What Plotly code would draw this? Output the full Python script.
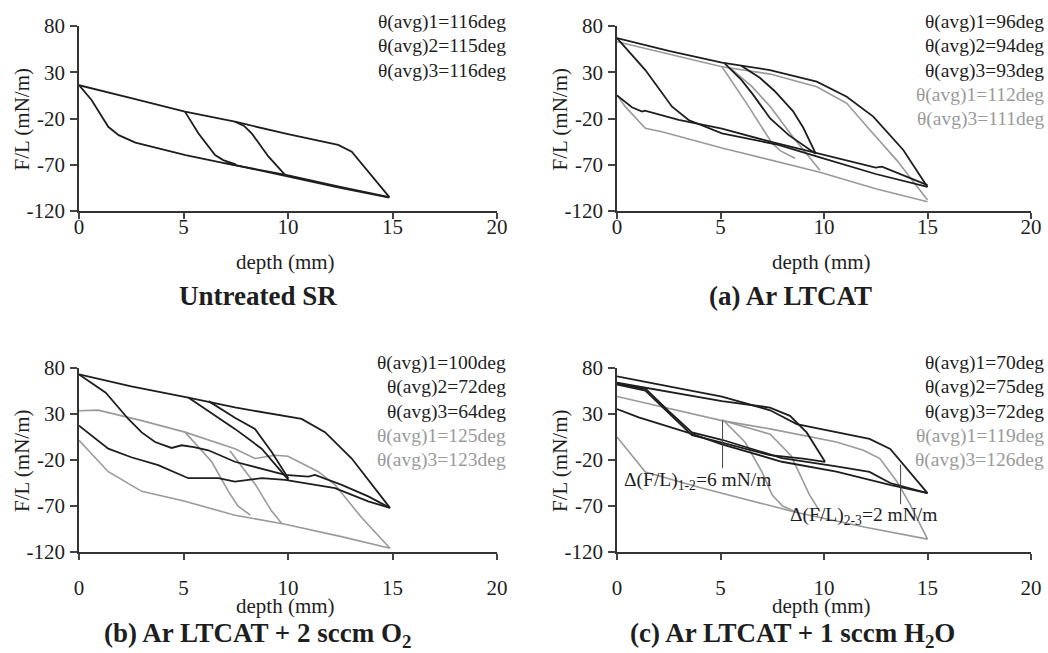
import plotly.graph_objects as go

W, H = 1048, 653
BLACK = "#1e1e1e"
GRAY = "#9a9a9a"
FONT = "Liberation Serif"

# ---------------- data: (depth mm, F/L mN/m) ----------------
# Untreated SR
u_adv15 = [(0, 16), (0.6, 0), (1.4, -29), (1.9, -38), (2.7, -46), (5.1, -59.5), (7.0, -68.5), (9.9, -81), (12.5, -94), (14.85, -105)]
u_rec15 = [(14.85, -105), (14.0, -82), (13.05, -56), (12.4, -48.6), (10.0, -37), (7.46, -23.5), (5.07, -12.6), (2.5, 2), (0, 16)]
u_in1 = [(5.07, -12.6), (5.71, -36), (6.51, -59.5), (6.9, -65), (7.5, -69.5)]
u_in2 = [(7.46, -23.5), (7.9, -28), (8.26, -36), (9.06, -61), (9.86, -81)]
u_adv_b = [(7.0, -68), (9.9, -82.5), (12.5, -95), (14.85, -105.5)]

# (a) Ar LTCAT
a_k_rec = [(15, -94), (13.83, -54), (12.38, -18), (11.1, 3.6), (9.65, 19.8), (7.39, 32.4), (5.07, 40.3), (2.5, 53), (0, 67)]
a_k_adv1 = [(0, 67), (1.37, 32.4), (2.66, -7.2), (3.46, -21.6), (5.07, -36), (7.8, -48.5), (9.8, -62), (12.5, -80), (15, -94)]
a_k_adv2 = [(0, 5), (0.72, -7.9), (1.21, -12.6), (1.35, -11.5), (2.98, -21.6), (5.07, -31), (7.4, -45), (9.8, -58), (12.5, -73), (12.8, -72), (15, -92)]
a_k_in1 = [(5.2, 39.6), (6.0, 22), (6.6, 5), (7.4, -20), (8.3, -38), (9.6, -58)]
a_k_in2 = [(6.0, 37), (6.9, 24), (7.6, 10), (8.5, -12), (9.0, -30), (9.6, -58)]
a_g_rec = [(15, -108), (13.51, -65), (12.22, -32.4), (11.1, -3.6), (9.65, 14.4), (7.4, 28), (5.07, 36), (2.5, 50), (0, 63)]
a_g_adv = [(0, 5.4), (0.4, -7.2), (1.37, -30.6), (2.17, -34.3), (5.07, -52), (7.6, -66), (9.8, -78), (12.5, -96), (15, -110)]
a_g_in1 = [(5.07, 36), (6.3, -5), (7.49, -46.8), (7.9, -55), (8.6, -63)]
a_g_in2 = [(5.5, 34), (6.5, 15), (7.4, -7), (8.5, -40), (9.8, -76)]

# (b) Ar LTCAT + 2 sccm O2
b_k_rec = [(14.88, -72), (14.16, -50.6), (13.05, -18.4), (11.77, 10.3), (10.65, 24.6), (7.46, 37.1), (5.23, 47.8), (2.5, 60), (0, 73)]
b_k_adv1 = [(0, 73), (1.28, 53.2), (2.36, 24.6), (3.0, 10), (3.64, -0.5), (4.43, -6.9), (4.91, -4), (5.5, -6), (6.19, -9.4), (7.46, -21.9), (9.86, -36.2), (10.97, -38), (11.29, -36.2), (12.57, -47), (13.84, -59.5), (14.88, -72)]
b_k_adv2 = [(0, 17.4), (1.4, -7.7), (2.5, -17), (3.79, -25.5), (5.23, -39.8), (6.67, -39.8), (7.46, -43.4), (8.74, -39.8), (9.86, -41.6), (12.25, -50.6), (13.84, -64.9), (14.88, -72)]
b_k_in1 = [(5.23, 47.8), (6.51, 28.2), (7.46, 13.8), (8.74, -7.7), (10.02, -41.6)]
b_k_in2 = [(6.2, 44), (7.46, 26), (8.42, 13.8), (9.22, -11.3), (10.02, -40)]
b_g_up = [(0, 33.5), (0.92, 34.2), (3.0, 22.8), (5.07, 10.3), (7.46, -7.7), (8.42, -18.4), (9.38, -14.8), (10.0, -16), (11.45, -32.7), (12.25, -47), (13.53, -82.8), (14.88, -116)]
b_g_low = [(0, 1.4), (1.4, -32.7), (3.0, -54.1), (5.07, -64.9), (7.46, -80), (9.86, -89.9), (12.5, -103), (14.88, -116)]
b_g_in1 = [(5.07, 10.3), (6.35, -21.9), (7.15, -54.1), (7.6, -70), (8.2, -80)]
b_g_in2 = [(7.22, -10), (8.42, -46), (9.2, -75), (9.7, -89)]

# (c) Ar LTCAT + 1 sccm H2O
c_k_rec = [(15, -56), (14.15, -33), (13.2, -8), (12.2, 3), (8.68, 19), (7.4, 34), (5.07, 49), (2.5, 60), (0, 71)]
c_k_adv1 = [(0, 63), (1.4, 57), (2.5, 33), (3.62, 10), (5.07, 2), (7.97, -18), (10.6, -27), (12.2, -33), (13.2, -45), (15, -56)]
c_k_adv2 = [(0, 62), (1.37, 55.5), (2.5, 31), (3.62, 7), (5.07, -1), (7.39, -14.8), (9.0, -18.4), (10.05, -22)]
c_k_rec2 = [(10.05, -22), (9.16, 10), (8.36, 28), (7.39, 37), (5.07, 44), (0, 64)]
c_k_adv3 = [(0, 35.3), (1.05, 26.4), (3.62, 8.4), (5.07, -3), (7.97, -21.9), (10.6, -32.7), (13.19, -47), (15, -56)]
c_g_rec = [(15, -106), (14.15, -68), (13.51, -43), (12.7, -18.4), (11.9, -9.4), (10.6, -0.5), (7.39, 13.8), (5.07, 22.8), (0, 49)]
c_g_adv = [(0, 5), (1.37, -33), (4.0, -50), (7.4, -70), (8.68, -77), (12.0, -93), (15, -106)]
c_g_in1 = [(5.1, 24), (6.2, -1), (7.0, -33), (7.5, -58), (8.0, -70), (8.68, -77)]
c_g_in2 = [(5.1, 23), (6.5, 14), (7.4, 8), (8.4, -15), (9.3, -58), (9.8, -76)]

xticks = [0, 5, 10, 15, 20]
yticks = [-120, -70, -20, 30, 80]

titles = ["Untreated SR", "(a) Ar LTCAT", "(b) Ar LTCAT + 2 sccm O<sub>2</sub>", "(c) Ar LTCAT + 1 sccm H<sub>2</sub>O"]
theta_black = [["θ(avg)1=116deg", "θ(avg)2=115deg", "θ(avg)3=116deg"],
               ["θ(avg)1=96deg", "θ(avg)2=94deg", "θ(avg)3=93deg"],
               ["θ(avg)1=100deg", "θ(avg)2=72deg", "θ(avg)3=64deg"],
               ["θ(avg)1=70deg", "θ(avg)2=75deg", "θ(avg)3=72deg"]]
theta_gray = [[],
              ["θ(avg)1=112deg", "θ(avg)3=111deg"],
              ["θ(avg)1=125deg", "θ(avg)3=123deg"],
              ["θ(avg)1=119deg", "θ(avg)3=126deg"]]

panels = [
    [(u_adv15, BLACK), (u_rec15, BLACK), (u_in1, BLACK), (u_in2, BLACK), (u_adv_b, BLACK)],
    [(a_g_rec, GRAY), (a_g_adv, GRAY), (a_g_in1, GRAY), (a_g_in2, GRAY),
     (a_k_rec, BLACK), (a_k_adv1, BLACK), (a_k_adv2, BLACK), (a_k_in1, BLACK), (a_k_in2, BLACK)],
    [(b_g_up, GRAY), (b_g_low, GRAY), (b_g_in1, GRAY), (b_g_in2, GRAY),
     (b_k_rec, BLACK), (b_k_adv1, BLACK), (b_k_adv2, BLACK), (b_k_in1, BLACK), (b_k_in2, BLACK)],
    [(c_g_rec, GRAY), (c_g_adv, GRAY), (c_g_in1, GRAY), (c_g_in2, GRAY),
     (c_k_rec, BLACK), (c_k_adv1, BLACK), (c_k_adv2, BLACK), (c_k_rec2, BLACK), (c_k_adv3, BLACK)],
]

# ---------------- layout geometry (pixels) ----------------
boxes = [(79, 497, 26, 211), (617, 1031, 26, 211), (79, 497, 368, 552), (617, 1031, 368, 552)]

fig = go.Figure()
layout = dict(width=W, height=H, margin=dict(l=0, r=0, t=0, b=0),
              paper_bgcolor="white", plot_bgcolor="white", showlegend=False,
              font=dict(family=FONT, color=BLACK, size=19))
annotations = []
shapes = []

def px(x):
    return x / W

def py(y):
    return 1 - y / H

for i, (x0, x1, y0, y1) in enumerate(boxes):
    n = "" if i == 0 else str(i + 1)
    xa, ya = "x" + n, "y" + n
    bottom = i >= 2
    layout["xaxis" + n] = dict(domain=[px(x0), px(x1)], range=[0, 20], anchor=ya,
                               tickvals=xticks, ticktext=[str(v) for v in xticks],
                               ticks="outside", ticklen=6, tickwidth=1.5,
                               showline=True, linecolor="#333", linewidth=1.5,
                               showgrid=False, zeroline=False, automargin=False,
                               ticklabelstandoff=10 if bottom else -10,
                               tickfont=dict(family=FONT, size=21, color=BLACK))
    layout["yaxis" + n] = dict(domain=[py(y1), py(y0)], range=[-120, 80], anchor=xa,
                               tickvals=yticks, ticktext=[str(v) for v in yticks],
                               ticks="outside", ticklen=7, tickwidth=1.5,
                               showline=True, linecolor="#333", linewidth=1.5,
                               showgrid=False, zeroline=False, automargin=False,
                               ticklabelstandoff=1,
                               tickfont=dict(family=FONT, size=21, color=BLACK))
    for pts, col in panels[i]:
        fig.add_trace(go.Scatter(x=[p[0] for p in pts], y=[p[1] for p in pts], mode="lines",
                                 line=dict(color=col, width=1.8 if col == BLACK else 1.6),
                                 xaxis=xa, yaxis=ya, hoverinfo="skip"))
    # axis titles
    annotations.append(dict(text="depth (mm)", x=px((x0 + x1) / 2 - 3), y=py(606 if bottom else 262),
                            xref="paper", yref="paper", showarrow=False, xanchor="center", yanchor="middle",
                            font=dict(family=FONT, size=21, color=BLACK)))
    annotations.append(dict(text="F/L (mN/m)", x=px(x0 - 57), y=py((y0 + y1) / 2 + 1),
                            xref="paper", yref="paper", showarrow=False, textangle=-90,
                            xanchor="center", yanchor="middle",
                            font=dict(family=FONT, size=21, color=BLACK)))
    # theta labels
    right = 508 if i in (0, 2) else 1046
    top = 22 if i < 2 else 363
    lines = [(t, BLACK) for t in theta_black[i]] + [(t, GRAY) for t in theta_gray[i]]
    for k, (t, col) in enumerate(lines):
        annotations.append(dict(text=t, x=px(right), y=py(top + k * 24.3), xref="paper", yref="paper",
                                showarrow=False, xanchor="right", yanchor="middle",
                                font=dict(family=FONT, size=19.5, color=col)))

# panel titles
title_pos = [(258, 296), (790, 296), (257, 635), (792, 635)]
for t, (tx, ty) in zip(titles, title_pos):
    annotations.append(dict(text="<b>" + t + "</b>", x=px(tx), y=py(ty), xref="paper", yref="paper",
                            showarrow=False, xanchor="center", yanchor="middle",
                            font=dict(family=FONT, size=27, color=BLACK)))

# delta annotations in panel (c)
annotations.append(dict(text="Δ(F/L)<sub>1-2</sub>=6 mN/m", x=3.9, y=-43, xref="x4", yref="y4",
                        showarrow=False, xanchor="center", yanchor="middle",
                        font=dict(family=FONT, size=19.5, color=BLACK)))
annotations.append(dict(text="Δ(F/L)<sub>2-3</sub>=2 mN/m", x=11.9, y=-81, xref="x4", yref="y4",
                        showarrow=False, xanchor="center", yanchor="middle",
                        font=dict(family=FONT, size=19.5, color=BLACK)))
shapes.append(dict(type="line", xref="x4", yref="y4", x0=5.1, x1=5.1, y0=23, y1=-29,
                   line=dict(color="#444", width=1)))
shapes.append(dict(type="line", xref="x4", yref="y4", x0=13.7, x1=13.7, y0=-25, y1=-68,
                   line=dict(color="#444", width=1)))

layout["annotations"] = annotations
layout["shapes"] = shapes
fig.update_layout(**layout)
fig.write_html("out.html", config={"displayModeBar": False},
               post_script="document.body.style.margin='0px';document.body.style.padding='0px';")
